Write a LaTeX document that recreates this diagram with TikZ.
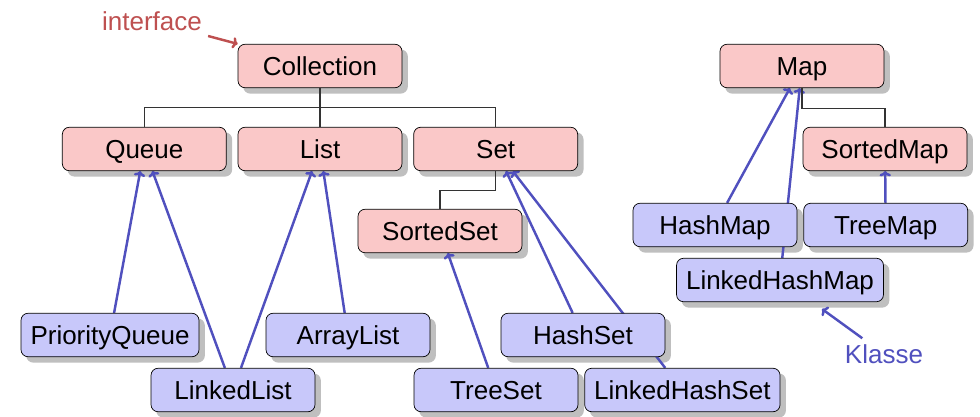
\documentclass[tikz,border=0pt]{standalone}
\usepackage{fontspec}
\setmainfont{Liberation Sans}
\usetikzlibrary{arrows.meta,shapes,positioning,backgrounds}
\definecolor{ifacefill}{RGB}{250,200,200}
\definecolor{classfill}{RGB}{200,200,250}
\definecolor{classblue}{RGB}{80,80,190}
\definecolor{ifacered}{RGB}{190,80,80}
\pgfdeclarelayer{shadowlayer}
\pgfsetlayers{shadowlayer,background,main}
\tikzset{
  basic/.style  = {draw, thin, rounded corners=4pt, minimum width=3.28cm,
                   minimum height=0.87cm, inner xsep=0.19cm,
                   text height=10.8pt, text depth=0pt,
                   font=\fontsize{14.8}{18}\selectfont},
  iface/.style  = {basic, fill=ifacefill},
  class/.style  = {basic, fill=classfill},
  shade/.style  = {fill=black!25, rounded corners=4pt},
  tree/.style   = {draw=black!80, line width=0.6pt},
  impl/.style   = {->, draw=classblue, line width=1.4pt},
  note/.style   = {font=\fontsize{14.8}{18}\selectfont}
}

\begin{document}
\begin{tikzpicture}[x=0.02cm, y=-0.02cm, >={To[length=3pt,width=6.5pt]}]
\useasboundingbox (0,0) rectangle (980,416);

% interfaces
\node[iface] (coll) at (320,66) {Collection};
\node[iface] (list) at (320,149) {List};
\node[iface, left=0.22cm of list] (queue) {Queue};
\node[iface, right=0.22cm of list] (set) {Set};
\node[iface] (sset) at (440,231) {SortedSet};
\node[iface] (map) at (802,66) {Map};
\node[iface] (smap) at (885,149) {SortedMap};

% classes
\node[class] (pq) at (110,335) {PriorityQueue};
\node[class] (al) at (348,335) {ArrayList};
\node[class] (hs) at (583,335) {HashSet};
\node[class] (ll) at (233,390) {LinkedList};
\node[class] (ts) at (496,390) {TreeSet};
\node[class, right=0.12cm of ts] (lhs) {LinkedHashSet};
\node[class] (hm) at (715,225) {HashMap};
\node[class, right=0.12cm of hm] (tm) {TreeMap};
\node[class] (lhm) at (780,280) {LinkedHashMap};

% legend
\node[note, text=ifacered] (iface) at (152,21) {interface};
\node[note, text=classblue] (klasse) at (884,354) {Klasse};
\coordinate (ktip) at (822,309);

% shadows under every box
\begin{pgfonlayer}{shadowlayer}
\foreach \n in {coll,list,queue,set,sset,map,smap,pq,al,hs,ll,ts,lhs,hm,tm,lhm}
  \path[shade] ([xshift=0.11cm,yshift=-0.11cm]\n.south west)
    rectangle ([xshift=0.11cm,yshift=-0.11cm]\n.north east);
\end{pgfonlayer}

% interface hierarchy
\foreach \n in {queue,list,set}
  \draw[tree] (coll.south) -- ++(0,19) -| (\n.north);
\draw[tree] (set.south) -- ++(0,19) -| (sset.north);
\draw[tree] (map.south) -- ++(0,20) -| (smap.north);

% classes implementing interfaces, behind the boxes
\begin{scope}[on background layer]
\foreach \a/\b in {pq/queue, ll/queue, ll/list, al/list, ts/sset,
                   hs/set, lhs/set, hm/map, lhm/map, tm/smap}
  \draw[impl] (\a) -- (\b);
\end{scope}

\draw[->, draw=ifacered, line width=1.4pt] (iface) -- (coll.north west);
\draw[impl] (klasse) -- (ktip);
\end{tikzpicture}
\end{document}
